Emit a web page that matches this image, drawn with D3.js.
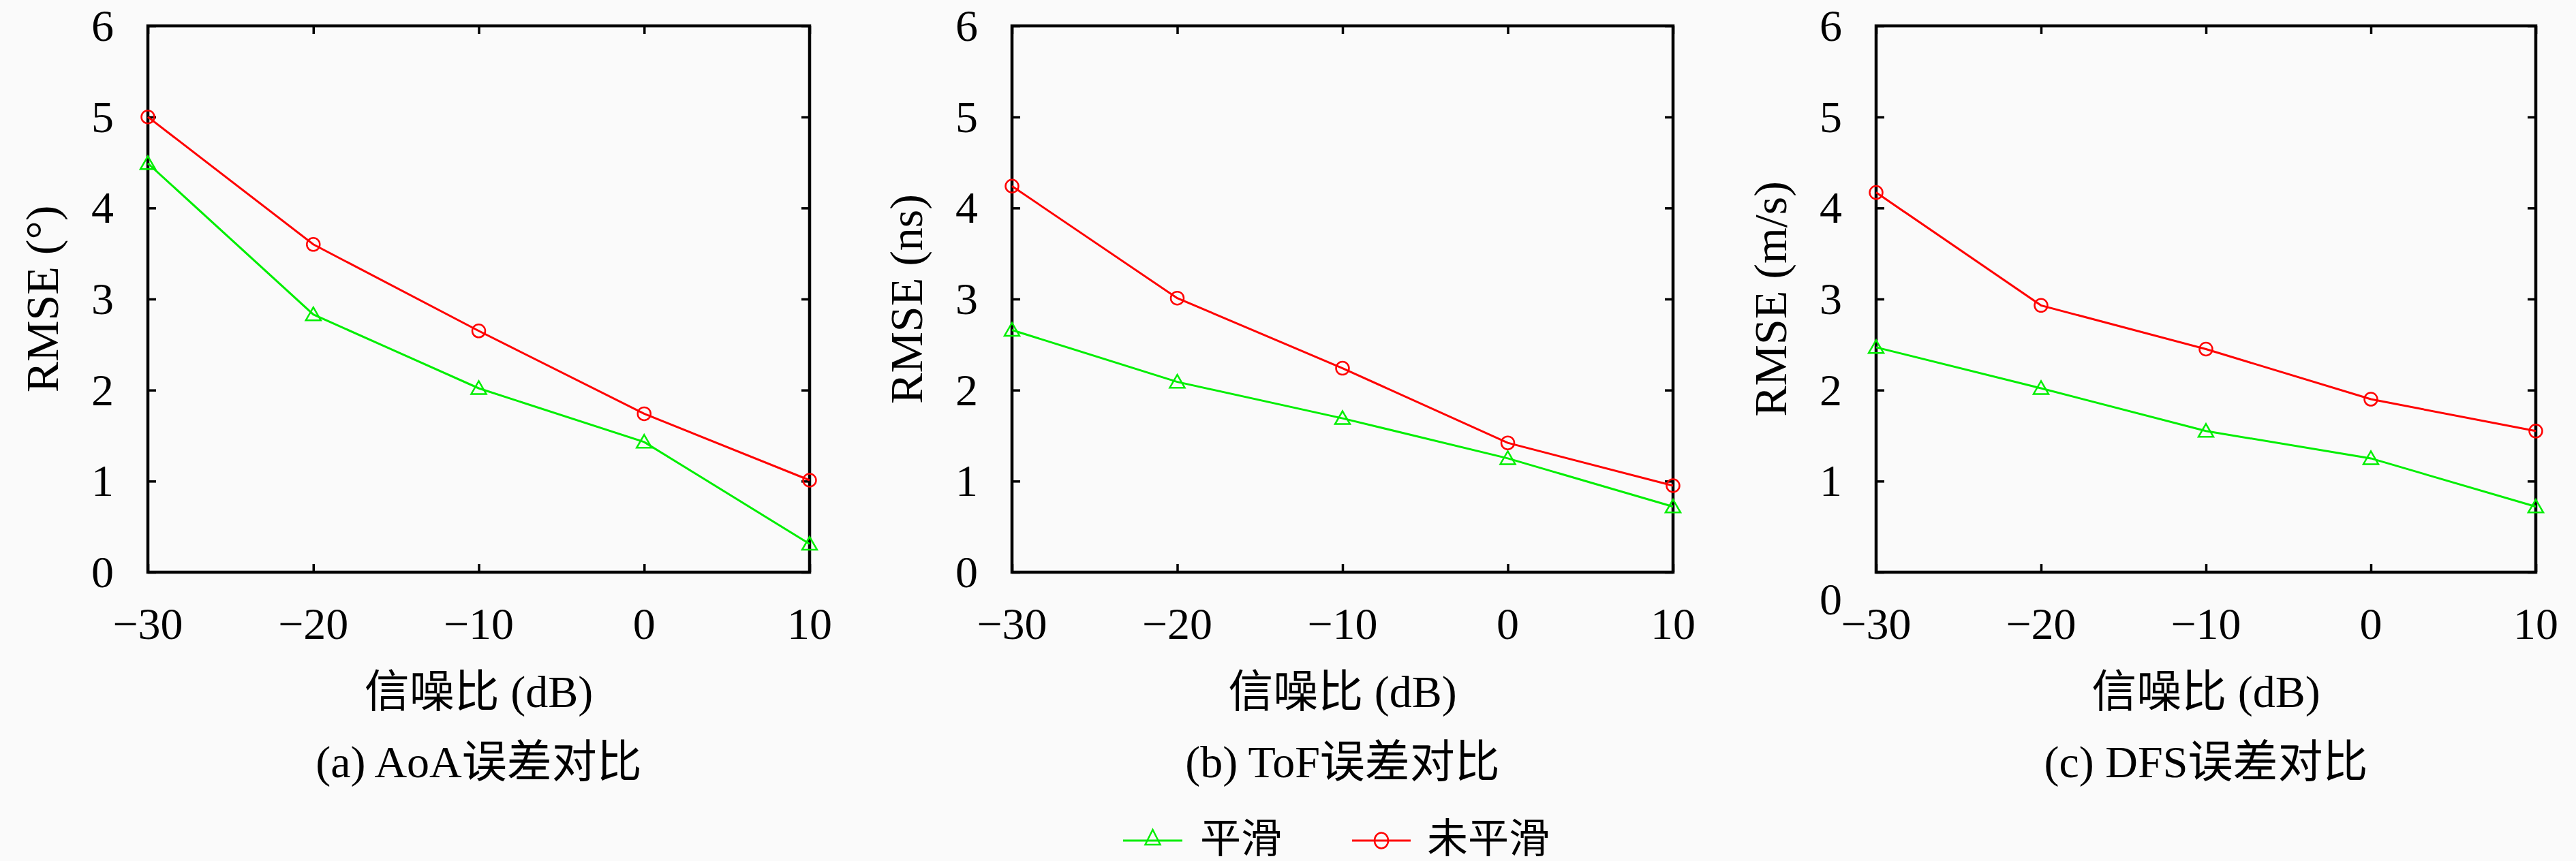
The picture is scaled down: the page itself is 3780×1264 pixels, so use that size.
<!DOCTYPE html>
<html>
<head>
<meta charset="utf-8">
<script src="https://cdn.jsdelivr.net/npm/d3@7/dist/d3.min.js"></script>
<style>
  html, body { margin: 0; padding: 0; background: #fafafa; }
  svg { display: block; }
</style>
</head>
<body>
<svg id="chart" width="3780" height="1264"></svg>
<script>
// ---------- data ----------
const snr = [-30, -20, -10, 0, 10];
const xTicks = [-30, -20, -10, 0, 10];
const yTicks = [0, 1, 2, 3, 4, 5, 6];

const aoaSmooth = [4.49, 2.83, 2.02, 1.43, 0.31];
const aoaRaw    = [5.00, 3.60, 2.65, 1.74, 1.01];
const tofSmooth = [2.66, 2.09, 1.69, 1.25, 0.72];
const tofRaw    = [4.24, 3.01, 2.24, 1.42, 0.95];
const dfsSmooth = [2.47, 2.02, 1.55, 1.25, 0.72];
const dfsRaw    = [4.17, 2.93, 2.45, 1.90, 1.55];

const yTitles  = ["RMSE (°)", "RMSE (ns)", "RMSE (m/s)"];
const captions = ["(a) AoA误差对比", "(b) ToF误差对比", "(c) DFS误差对比"];
const xTitle = "信噪比 (dB)";
const seriesNames = ["平滑", "未平滑"];

// ---------- layout / style ----------
const GREEN = "#00ee00", RED = "#ff0000";
const FONT = "'Liberation Serif', 'Noto Sans CJK SC', serif";
const panels = [
  { left: 217,  right: 1188, smooth: aoaSmooth, raw: aoaRaw, zeroShift: 0 },
  { left: 1485, right: 2455, smooth: tofSmooth, raw: tofRaw, zeroShift: 0 },
  { left: 2753, right: 3721, smooth: dfsSmooth, raw: dfsRaw, zeroShift: 40 }
];
const plotTop = 38, plotBottom = 840;

const svg = d3.select("#chart");
svg.append("rect").attr("width", 3780).attr("height", 1264).attr("fill", "#fafafa");

function triPath(w, h) {
  return `M0,${-h / 2 - 2}L${w / 2},${h / 2}L${-w / 2},${h / 2}Z`;
}

panels.forEach((p, i) => {
  const x = d3.scaleLinear().domain([-30, 10]).range([p.left, p.right]);
  const y = d3.scaleLinear().domain([0, 6]).range([plotBottom, plotTop]);
  const g = svg.append("g");

  // inward ticks on all four sides
  const tickLen = 12;
  const ax = (axis, tr) => g.append("g").attr("transform", tr).call(axis)
    .call(s => s.select(".domain").remove())
    .call(s => s.selectAll("line").attr("stroke", "#000").attr("stroke-width", 3.5))
    .call(s => s.selectAll("text").remove());
  ax(d3.axisBottom(x).tickValues(xTicks).tickSize(-tickLen), `translate(0,${plotBottom})`);
  ax(d3.axisTop(x).tickValues(xTicks).tickSize(-tickLen), `translate(0,${plotTop})`);
  ax(d3.axisLeft(y).tickValues(yTicks).tickSize(-tickLen), `translate(${p.left},0)`);
  ax(d3.axisRight(y).tickValues(yTicks).tickSize(-tickLen), `translate(${p.right},0)`);

  // frame
  g.append("rect").attr("x", p.left).attr("y", plotTop)
    .attr("width", p.right - p.left).attr("height", plotBottom - plotTop)
    .attr("fill", "none").attr("stroke", "#000").attr("stroke-width", 4.5);

  // tick labels
  g.selectAll(".xl").data(xTicks).join("text")
    .attr("x", d => x(d)).attr("y", 938)
    .attr("text-anchor", "middle")
    .attr("font-family", FONT).attr("font-size", 66)
    .text(d => d < 0 ? "\u2212" + Math.abs(d) : d);
  g.selectAll(".yl").data(yTicks).join("text")
    .attr("x", p.left - 50)
    .attr("y", d => y(d) + 22 + (d === 0 ? p.zeroShift : 0))
    .attr("text-anchor", "end")
    .attr("font-family", FONT).attr("font-size", 66)
    .text(d => d);

  // axis titles
  const cx = (p.left + p.right) / 2;
  g.append("text").attr("x", cx).attr("y", 1038)
    .attr("text-anchor", "middle")
    .attr("font-family", FONT).attr("font-size", 66).text(xTitle);
  g.append("text")
    .attr("transform", `translate(${p.left - 132},${(plotTop + plotBottom) / 2}) rotate(-90)`)
    .attr("text-anchor", "middle")
    .attr("font-family", FONT).attr("font-size", 68).text(yTitles[i]);
  g.append("text").attr("x", cx).attr("y", 1141)
    .attr("text-anchor", "middle")
    .attr("font-family", FONT).attr("font-size", 66).text(captions[i]);

  // lines
  const line = d3.line().x((d, j) => x(snr[j])).y(d => y(d));
  g.append("path").datum(p.smooth).attr("d", line)
    .attr("fill", "none").attr("stroke", GREEN).attr("stroke-width", 3);
  g.append("path").datum(p.raw).attr("d", line)
    .attr("fill", "none").attr("stroke", RED).attr("stroke-width", 3);

  // markers
  g.selectAll(".tri").data(p.smooth).join("path")
    .attr("transform", (d, j) => `translate(${x(snr[j])},${y(d)})`)
    .attr("d", triPath(22, 17))
    .attr("fill", "none").attr("stroke", GREEN).attr("stroke-width", 2.5);
  g.selectAll(".cir").data(p.raw).join("circle")
    .attr("cx", (d, j) => x(snr[j])).attr("cy", d => y(d)).attr("r", 9.5)
    .attr("fill", "none").attr("stroke", RED).attr("stroke-width", 2.5);
});

// legend
const leg = svg.append("g");
const legItems = [
  { name: seriesNames[0], color: GREEN, x0: 1648, x1: 1735, tx: 1761, marker: "tri" },
  { name: seriesNames[1], color: RED,   x0: 1984, x1: 2070, tx: 2094, marker: "cir" }
];
const ly = 1234;
legItems.forEach(it => {
  leg.append("line").attr("x1", it.x0).attr("x2", it.x1).attr("y1", ly).attr("y2", ly)
    .attr("stroke", it.color).attr("stroke-width", 3);
  const mx = (it.x0 + it.x1) / 2;
  if (it.marker === "tri") {
    leg.append("path").attr("transform", `translate(${mx},${ly - 4})`)
      .attr("d", triPath(22, 20))
      .attr("fill", "none").attr("stroke", it.color).attr("stroke-width", 2.5);
  } else {
    leg.append("ellipse").attr("cx", mx).attr("cy", ly).attr("rx", 10).attr("ry", 11.5)
      .attr("fill", "none").attr("stroke", it.color).attr("stroke-width", 2.5);
  }
  leg.append("text").attr("x", it.tx).attr("y", 1252)
    .attr("font-family", FONT).attr("font-size", 60).text(it.name);
});
</script>
</body>
</html>
